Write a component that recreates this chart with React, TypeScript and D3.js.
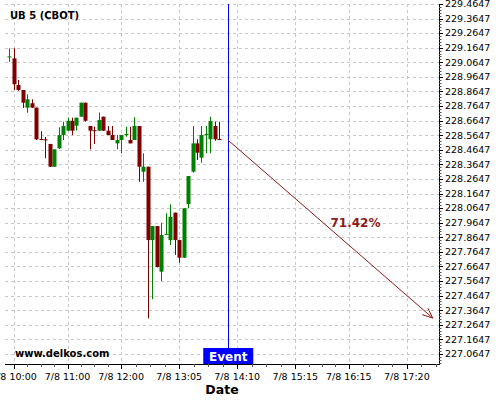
import React from 'react';
import * as d3 from 'd3';

const title = 'UB 5 (CBOT)';
const watermark = 'www.delkos.com';
const dayLabel = '7/8';

const times = [
  '09:55', '10:00', '10:05', '10:10', '10:15', '10:20', '10:25', '10:30', '10:35', '10:40', '10:45', '10:50',
  '10:55', '11:00', '11:05', '11:10', '11:15', '11:20', '11:25', '11:30', '11:35', '11:40', '11:45', '11:50',
  '11:55', '12:00', '12:05', '12:10', '12:15', '12:20', '12:25', '12:30', '12:35', '12:40', '12:45', '12:50',
  '12:55', '13:00', '13:05', '13:10', '13:15', '13:20', '13:25', '13:30', '13:35', '13:40', '13:45', '13:50',
];
const opens = [
  229.103, 229.092, 228.909, 228.875, 228.754, 228.784, 228.754, 228.539, 228.537, 228.505, 228.349, 228.475,
  228.566, 228.596, 228.664, 228.630, 228.692, 228.788, 228.628, 228.599, 228.596, 228.692, 228.596, 228.566,
  228.509, 228.532, 228.570, 228.532, 228.532, 228.628, 228.315, 228.349, 227.846, 227.942, 227.629, 227.885,
  227.846, 228.034, 227.846, 227.725, 228.093, 228.315, 228.509, 228.411, 228.571, 228.537, 228.628, 228.539,
];
const highs = [
  229.161, 229.161, 228.944, 228.875, 228.845, 228.811, 228.754, 228.592, 228.553, 228.505, 228.468, 228.619,
  228.658, 228.685, 228.685, 228.685, 228.788, 228.788, 228.628, 228.623, 228.721, 228.692, 228.628, 228.628,
  228.566, 228.566, 228.623, 228.623, 228.688, 228.628, 228.441, 228.349, 227.942, 227.942, 227.965, 228.029,
  228.091, 228.034, 227.846, 228.064, 228.285, 228.628, 228.537, 228.628, 228.628, 228.692, 228.658, 228.658,
];
const lows = [
  229.069, 228.875, 228.870, 228.752, 228.719, 228.752, 228.532, 228.536, 228.407, 228.347, 228.347, 228.470,
  228.532, 228.594, 228.566, 228.596, 228.690, 228.658, 228.468, 228.505, 228.594, 228.594, 228.566, 228.532,
  228.468, 228.441, 228.555, 228.509, 228.532, 228.246, 228.246, 227.309, 227.440, 227.658, 227.565, 227.884,
  227.812, 227.744, 227.691, 227.723, 228.064, 228.308, 228.395, 228.376, 228.441, 228.441, 228.527, 228.536,
];
const closes = [
  229.105, 228.914, 228.875, 228.788, 228.811, 228.754, 228.537, 228.537, 228.536, 228.349, 228.468, 228.566,
  228.628, 228.664, 228.596, 228.685, 228.788, 228.664, 228.596, 228.596, 228.669, 228.596, 228.566, 228.532,
  228.532, 228.566, 228.573, 228.509, 228.628, 228.349, 228.349, 227.846, 227.942, 227.661, 227.881, 227.888,
  228.006, 227.846, 227.725, 228.064, 228.285, 228.509, 228.445, 228.566, 228.573, 228.662, 228.537, 228.537,
];

const xTickLabels = ['10:00', '11:00', '12:00', '13:05', '14:10', '15:15', '16:15', '17:20'];
const yTickStart = 227.0647;
const yTickStep = 0.1;
const yTickCount = 25;

const eventTime = '14:00';
const eventLabel = 'Event';
const forecastTimes = ['14:00', '17:49'];
const forecastValues = [228.53, 227.311];
const forecastLabel = '71.42%';
const axisTitle = 'Date';

const toDate = (s: string) => {
  const [h, m] = s.split(':').map(Number);
  return new Date(2020, 6, 8, h, m);
};

const W = 500;
const H = 400;
const left = 5;
const right = 439;
const top = 4;
const bottom = 364;

const FONT = 'DejaVu Sans, Verdana, sans-serif';
const GREEN = '#008000';
const RED = '#800000';
const ARROW = '#8b1a1a';

export default function App() {
  const x = d3.scaleTime().domain([toDate('09:50'), toDate('17:56')]).range([left, right]);
  const y = d3.scaleLinear().domain([226.9961, 229.4647]).range([bottom, top]);

  const yTicks = d3.range(yTickCount).map((k) => yTickStart + k * yTickStep);
  const yMinor = d3.range(yTickCount * 5).map((k) => yTickStart - yTickStep + k * (yTickStep / 5)).filter((v) => {
    const py = y(v);
    return py >= top && py <= bottom;
  });
  const xMajor = xTickLabels.map(toDate);
  const xMinor: number[] = [];
  for (let i = 0; i < xMajor.length; i++) {
    const a = x(xMajor[i]);
    const b = i < xMajor.length - 1 ? x(xMajor[i + 1]) : a + (a - x(xMajor[i - 1]));
    for (let k = 1; k < 4; k++) {
      const v = a + ((b - a) * k) / 4;
      if (v < right) xMinor.push(v);
    }
  }

  const bw = 4;
  const ex = x(toDate(eventTime));
  const ax1 = x(toDate(forecastTimes[0]));
  const ay1 = y(forecastValues[0]);
  const ax2 = x(toDate(forecastTimes[1]));
  const ay2 = y(forecastValues[1]);
  const ang = Math.atan2(ay2 - ay1, ax2 - ax1);
  const hl = 11;
  const ha = 0.4;
  const h1 = [ax2 - hl * Math.cos(ang - ha), ay2 - hl * Math.sin(ang - ha)];
  const h2 = [ax2 - hl * Math.cos(ang + ha), ay2 - hl * Math.sin(ang + ha)];

  return (
    <svg width={W} height={H} style={{ position: 'absolute', left: 0, top: 0, background: '#fff' }} fontFamily={FONT}>
      <rect x={0} y={0} width={W} height={H} fill="#fff" />
      {/* grid */}
      {yTicks.map((v, i) => (
        <line key={'gy' + i} x1={left} x2={right} y1={Math.round(y(v)) + 0.5} y2={Math.round(y(v)) + 0.5}
          stroke="#c8c8c8" strokeDasharray="3,3" />
      ))}
      {xMajor.map((d, i) => (
        <line key={'gx' + i} x1={Math.round(x(d)) + 0.5} x2={Math.round(x(d)) + 0.5} y1={top} y2={bottom}
          stroke="#c8c8c8" strokeDasharray="3,3" />
      ))}
      {/* candles */}
      {times.map((t, i) => {
        const cx = Math.round(x(toDate(t)));
        const o = opens[i];
        const c = closes[i];
        const up = c >= o;
        const col = up ? GREEN : RED;
        const yt = y(Math.max(o, c));
        const yb = y(Math.min(o, c));
        return (
          <g key={'c' + i}>
            <line x1={cx + 0.5} x2={cx + 0.5} y1={y(highs[i])} y2={y(lows[i])} stroke={col} strokeWidth={1} />
            <rect x={cx - bw / 2 + 0.5} y={yt} width={bw} height={Math.max(1, yb - yt)} fill={col} />
          </g>
        );
      })}
      {/* event line */}
      <line x1={Math.round(ex) + 0.5} x2={Math.round(ex) + 0.5} y1={top} y2={bottom} stroke="#0000ff" strokeWidth={1} />
      {/* forecast arrow */}
      <line x1={ax1} y1={ay1} x2={ax2} y2={ay2} stroke={ARROW} strokeWidth={1} />
      <polyline points={`${h1[0]},${h1[1]} ${ax2},${ay2} ${h2[0]},${h2[1]}`} fill="none" stroke={ARROW} strokeWidth={1} />
      <text x={(ax1 + ax2) / 2} y={(ay1 + ay2) / 2 - 2.5} fontSize={12} fontWeight="bold" fill={ARROW}>{forecastLabel}</text>
      {/* axes */}
      <line x1={right + 0.5} x2={right + 0.5} y1={top} y2={bottom + 0.5} stroke="#000" />
      <line x1={left} x2={right + 1} y1={bottom + 0.5} y2={bottom + 0.5} stroke="#000" />
      {yMinor.map((v, i) => (
        <line key={'ym' + i} x1={right} x2={right + 2.5} y1={Math.round(y(v)) + 0.5} y2={Math.round(y(v)) + 0.5} stroke="#555" />
      ))}
      {yTicks.map((v, i) => (
        <g key={'yt' + i}>
          <line x1={right} x2={right + 4} y1={Math.round(y(v)) + 0.5} y2={Math.round(y(v)) + 0.5} stroke="#000" />
          <text x={right + 6} y={y(v)} dy="0.35em" fontSize={9.5} fill="#000">{v.toFixed(4)}</text>
        </g>
      ))}
      {xMinor.map((v, i) => (
        <line key={'xm' + i} x1={Math.round(v) + 0.5} x2={Math.round(v) + 0.5} y1={bottom} y2={bottom + 3} stroke="#555" />
      ))}
      {xMajor.map((d, i) => (
        <g key={'xt' + i}>
          <line x1={Math.round(x(d)) + 0.5} x2={Math.round(x(d)) + 0.5} y1={bottom} y2={bottom + 5} stroke="#000" />
          <text x={x(d)} y={380} textAnchor="middle" fontSize={9.5} fill="#000">{dayLabel + ' ' + xTickLabels[i]}</text>
        </g>
      ))}
      <text x={222} y={394} textAnchor="middle" fontSize={12.5} fontWeight="bold" fill="#000">{axisTitle}</text>
      {/* event badge */}
      <rect x={ex - 25} y={348} width={50} height={16} fill="#0000ff" />
      <text x={ex} y={360.5} textAnchor="middle" fontSize={12} fontWeight="bold" fill="#fff">{eventLabel}</text>
      {/* titles */}
      <text x={10} y={19} fontSize={10} fontWeight="bold" fill="#000">{title}</text>
      <text x={15} y={357} fontSize={10} fontWeight="bold" fill="#000">{watermark}</text>
    </svg>
  );
}
